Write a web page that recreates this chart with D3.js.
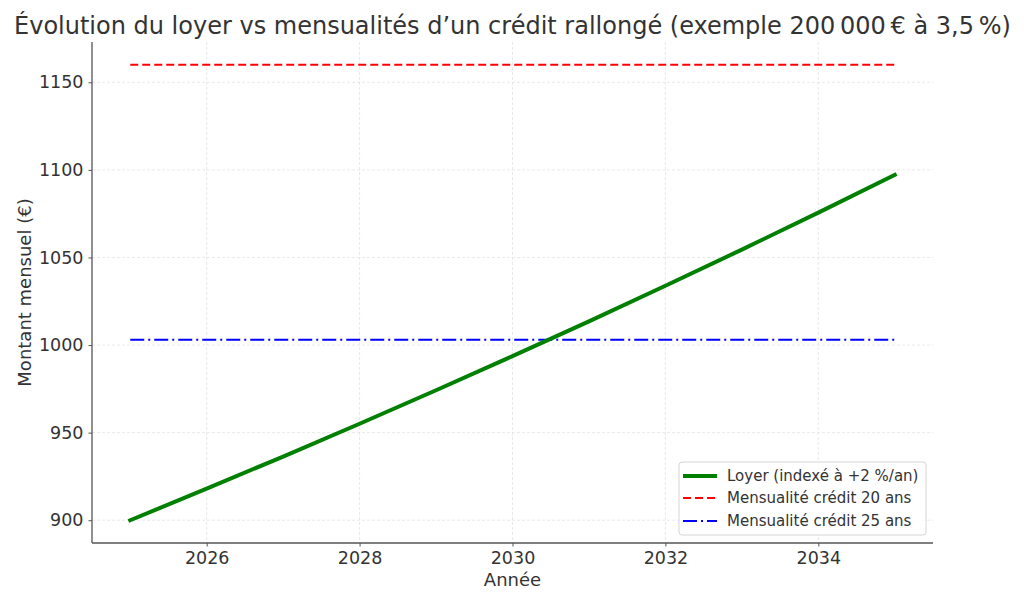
<!DOCTYPE html>
<html>
<head>
<meta charset="utf-8">
<script src="https://cdn.jsdelivr.net/npm/d3@7"></script>
<style>
  html, body { margin: 0; padding: 0; background: #fff; }
  svg { display: block; font-family: "DejaVu Sans", sans-serif; }
</style>
</head>
<body>
<svg id="chart" width="1024" height="601"></svg>
<script>
// ---- data ----
const years = [2025, 2026, 2027, 2028, 2029, 2030, 2031, 2032, 2033, 2034, 2035];
const rent = [900, 918, 936.36, 955.09, 974.19, 993.67, 1013.55, 1033.82, 1054.49, 1075.58, 1097.10];
const credit20 = 1160;
const credit25 = 1003;
const xTicks = [2026, 2028, 2030, 2032, 2034];
const yTicks = [900, 950, 1000, 1050, 1100, 1150];
const seriesNames = ["Loyer (indexé à +2 %/an)", "Mensualité crédit 20 ans", "Mensualité crédit 25 ans"];
const titleText = "Évolution du loyer vs mensualités d\u2019un crédit rallongé (exemple 200\u202F000\u202F€ à 3,5\u202F%)";
const xLabel = "Année";
const yLabel = "Montant mensuel (€)";

// ---- layout ----
const L = 92, R = 933, T = 42, B = 543;
const svg = d3.select("#chart");
const xMin = d3.min(years), xMax = d3.max(years);
const xPad = (xMax - xMin) * 0.05;
const yLo = d3.min([...rent, credit20, credit25]), yHi = d3.max([...rent, credit20, credit25]);
const yPad = (yHi - yLo) * 0.05;
const x = d3.scaleLinear().domain([xMin - xPad, xMax + xPad]).range([L, R]);
const y = d3.scaleLinear().domain([yLo - yPad, yHi + yPad]).range([B, T]);

const textCol = "#333333", spineCol = "#555555";

// grid
const grid = svg.append("g");
grid.selectAll(".vg").data(xTicks).join("line")
  .attr("x1", d => x(d)).attr("x2", d => x(d)).attr("y1", T).attr("y2", B)
  .attr("stroke", "#e3e3e3").attr("stroke-width", 0.8).attr("stroke-dasharray", "3,2");
grid.selectAll(".hg").data(yTicks).join("line")
  .attr("y1", d => y(d)).attr("y2", d => y(d)).attr("x1", L).attr("x2", R)
  .attr("stroke", "#e3e3e3").attr("stroke-width", 0.8).attr("stroke-dasharray", "3,2");

// axes
const xAxis = svg.append("g").attr("transform", `translate(0,${B})`)
  .call(d3.axisBottom(x).tickValues(xTicks).tickFormat(d3.format("d")).tickSizeOuter(0).tickSize(3.5).tickPadding(5));
const yAxis = svg.append("g").attr("transform", `translate(${L},0)`)
  .call(d3.axisLeft(y).tickValues(yTicks).tickFormat(d3.format("d")).tickSizeOuter(0).tickSize(3.5).tickPadding(5));
[xAxis, yAxis].forEach(a => {
  a.select(".domain").attr("stroke", spineCol).attr("stroke-width", 1.3);
  a.selectAll(".tick line").attr("stroke", spineCol).attr("stroke-width", 1);
  a.selectAll(".tick text").attr("fill", textCol).attr("font-size", 17.5)
    .attr("font-family", "DejaVu Sans, sans-serif");
});
xAxis.select(".domain").attr("d", `M${L},0H${R}`);
yAxis.select(".domain").attr("d", `M0,${T}V${B}`);

// lines
const plot = svg.append("g");
plot.append("line")
  .attr("x1", x(xMin)).attr("x2", x(xMax)).attr("y1", y(credit20)).attr("y2", y(credit20))
  .attr("stroke", "#ff0000").attr("stroke-width", 2).attr("stroke-dasharray", "8,4");
plot.append("line")
  .attr("x1", x(xMin)).attr("x2", x(xMax)).attr("y1", y(credit25)).attr("y2", y(credit25))
  .attr("stroke", "#0000ff").attr("stroke-width", 2).attr("stroke-dasharray", "14,4,2,4");
const line = d3.line().x((d, i) => x(years[i])).y(d => y(d));
plot.append("path").datum(rent).attr("d", line)
  .attr("fill", "none").attr("stroke", "#008000").attr("stroke-width", 4)
  .attr("stroke-linecap", "square").attr("stroke-linejoin", "round");

// title & labels
svg.append("text").attr("x", (L + R) / 2).attr("y", 34).attr("text-anchor", "middle")
  .attr("font-size", 24).attr("fill", textCol).text(titleText);
svg.append("text").attr("x", (L + R) / 2).attr("y", 586).attr("text-anchor", "middle")
  .attr("font-size", 18).attr("fill", textCol).text(xLabel);
svg.append("text").attr("transform", `translate(31,${(T + B) / 2}) rotate(-90)`)
  .attr("text-anchor", "middle").attr("font-size", 18).attr("fill", textCol).text(yLabel);

// legend
const lg = svg.append("g");
lg.append("rect").attr("x", 679).attr("y", 462).attr("width", 247).attr("height", 73)
  .attr("rx", 3).attr("fill", "#fff").attr("fill-opacity", 0.8)
  .attr("stroke", "#d5d5d5").attr("stroke-width", 1);
const styles = [
  { c: "#008000", w: 4, d: null },
  { c: "#ff0000", w: 2, d: "8,4" },
  { c: "#0000ff", w: 2, d: "14,4,2,4" }
];
const rowsY = [476, 498, 521];
seriesNames.forEach((n, i) => {
  lg.append("line").attr("x1", 683).attr("x2", 717).attr("y1", rowsY[i]).attr("y2", rowsY[i])
    .attr("stroke", styles[i].c).attr("stroke-width", styles[i].w)
    .attr("stroke-dasharray", styles[i].d);
  lg.append("text").attr("x", 727).attr("y", rowsY[i]).attr("dy", "0.35em")
    .attr("font-size", 15).attr("fill", textCol).text(n);
});
</script>
</body>
</html>
